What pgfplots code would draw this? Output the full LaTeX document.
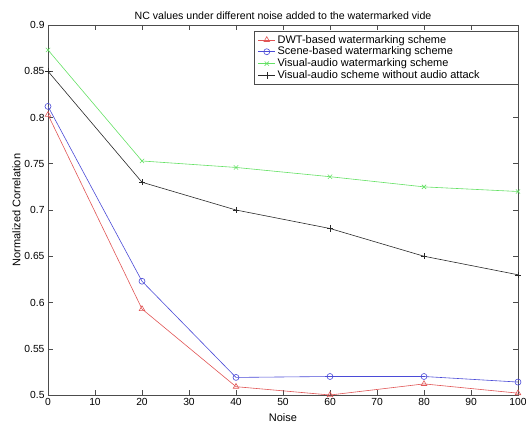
\documentclass[border=0pt]{standalone}
\usepackage{pgfplots}
\pgfplotsset{compat=1.18}
\usepackage{fontspec}
\setmainfont{Liberation Sans}
\definecolor{cred}{RGB}{225,85,85}
\definecolor{cblue}{RGB}{75,75,215}
\definecolor{cgreen}{RGB}{100,225,100}
\definecolor{cblack}{RGB}{40,40,40}
\begin{document}
\begin{tikzpicture}
\useasboundingbox (-48bp,-29bp) rectangle (478bp,395bp);
\begin{axis}[
  scale only axis,
  width=470bp, height=370bp,
  xmin=0, xmax=100, ymin=0.5, ymax=0.9,
  xtick={0,10,...,100},
  ytick={0.5,0.55,...,0.9},
  yticklabel style={/pgf/number format/.cd,fixed,precision=2},
  /pgf/number format/assume math mode=true,
  tick align=inside,
  major tick length=5bp,
  tick style={black!70, line width=0.5pt},
  axis line style={black!70, line width=0.6pt},
  ticklabel style={font=\fontsize{10.3bp}{12bp}\selectfont},
  label style={font=\fontsize{11bp}{13bp}\selectfont},
  title style={font=\fontsize{10.6bp}{12bp}\selectfont, yshift=-4bp},
  title={NC values under different noise added to the watermarked vide},
  xlabel={Noise},
  ylabel={Normalized Correlation},
  xlabel style={yshift=-1bp},
  ylabel style={yshift=-3bp},
  legend style={at={(1,0.984)}, anchor=north east, draw=black!70, line width=0.5pt,
    font=\fontsize{11bp}{12bp}\selectfont, row sep=-1.6bp, inner xsep=4bp, inner ysep=2bp,
    cells={anchor=west}},
  legend cell align=left,
  every axis plot/.append style={line width=0.6pt},
]
\addplot[cred, mark=triangle, mark size=3.2bp, mark options={solid}] coordinates {(0,0.803) (20,0.593) (40,0.509) (60,0.500) (80,0.512) (100,0.502)};
\addlegendentry{DWT-based watermarking scheme}
\addplot[cblue, mark=o, mark size=3bp] coordinates {(0,0.812) (20,0.623) (40,0.519) (60,0.520) (80,0.520) (100,0.514)};
\addlegendentry{Scene-based watermarking scheme}
\addplot[cgreen, mark=x, mark size=3bp] coordinates {(0,0.873) (20,0.753) (40,0.746) (60,0.736) (80,0.725) (100,0.720)};
\addlegendentry{Visual-audio watermarking scheme}
\addplot[cblack, mark=+, mark size=3.2bp, mark options={line width=0.5pt}] coordinates {(0,0.850) (20,0.730) (40,0.700) (60,0.680) (80,0.650) (100,0.630)};
\addlegendentry{Visual-audio scheme without audio attack\hspace*{32bp}}
\end{axis}
\end{tikzpicture}
\end{document}
